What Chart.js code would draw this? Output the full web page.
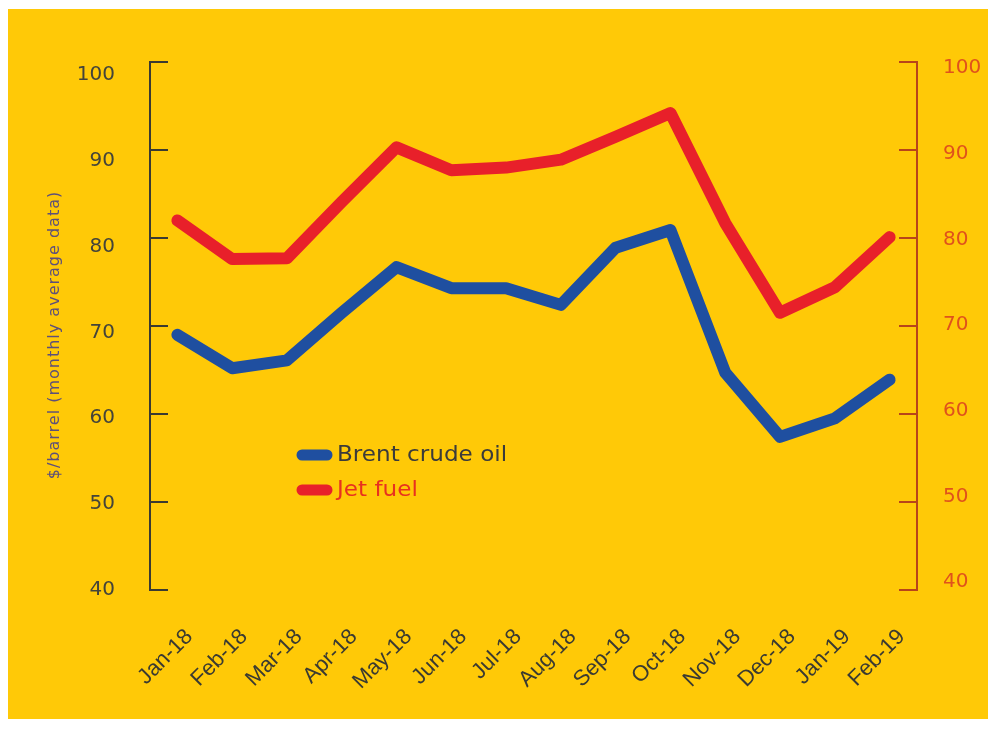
<!DOCTYPE html>
<html>
<head>
<meta charset="utf-8">
<title>Brent crude oil and jet fuel prices</title>
<script src="https://cdn.jsdelivr.net/npm/chart.js@4.4.1/dist/chart.umd.min.js"></script>
<style>
  html, body { margin: 0; padding: 0; background: #ffffff; }
  #panel {
    position: absolute;
    left: 8px; top: 9px;
    width: 980px; height: 710px;
    background: #ffc907;
  }
  #priceChart { display: block; }
</style>
</head>
<body>
<div id="panel"><canvas id="priceChart" width="980" height="710"></canvas></div>
<script>
// monthly labels along the bottom
var months = ["Jan-18", "Feb-18", "Mar-18", "Apr-18", "May-18", "Jun-18", "Jul-18",
              "Aug-18", "Sep-18", "Oct-18", "Nov-18", "Dec-18", "Jan-19", "Feb-19"];

// $/barrel, monthly averages
var brentValues = [69.0, 65.2, 66.1, 71.5, 76.7, 74.3, 74.3, 72.4, 78.9, 80.9, 64.7, 57.4, 59.5, 63.9];
var jetValues   = [82.0, 77.6, 77.7, 84.1, 90.3, 87.7, 88.0, 88.9, 91.5, 94.2, 81.7, 71.5, 74.4, 80.1];

// both y axes share the same scale
var yMin = 40, yMax = 100, yStep = 10;

var axisTitle = "$/barrel (monthly average data)";

var leftAxisColor = "#3a3a32";
var rightAxisColor = "#b8441a";
var brentColor = "#1f4fa0";
var jetColor = "#e8202a";

// short tick marks pointing into the plot from each y axis
var innerTicks = {
    id: "innerTicks",
    afterDatasetsDraw: function(chart) {
        var ctx = chart.ctx;
        var data = chart.scales.yData;
        var len = 18;
        ctx.save();
        ctx.lineWidth = 2;
        [[chart.scales.yLeft.right, leftAxisColor, 1], [chart.scales.yRight.left, rightAxisColor, -1]].forEach(function(side) {
            ctx.strokeStyle = side[1];
            for (var v = yMin; v <= yMax; v += yStep) {
                var y = Math.round(data.getPixelForValue(v));
                ctx.beginPath();
                ctx.moveTo(side[0], y);
                ctx.lineTo(side[0] + side[2] * len, y);
                ctx.stroke();
            }
        });
        ctx.restore();
    }
};

// rotated y title
var sideTitle = {
    id: "sideTitle",
    afterDraw: function(chart) {
        var ctx = chart.ctx;
        var area = chart.chartArea;
        ctx.save();
        ctx.translate(47, (area.top + area.bottom) / 2 + 9);
        ctx.rotate(-Math.PI / 2);
        ctx.font = "16px 'DejaVu Sans', sans-serif";
        ctx.letterSpacing = "1px";
        ctx.fillStyle = "#5e4f7a";
        ctx.textAlign = "center";
        ctx.textBaseline = "middle";
        ctx.fillText(axisTitle, 0, 0);
        ctx.restore();
    }
};

// legend drawn inside the plot, below the lines
var innerLegend = {
    id: "innerLegend",
    afterDraw: function(chart) {
        var ctx = chart.ctx;
        var area = chart.chartArea;
        var x0 = area.left + 147;
        var y0 = area.top + 393;
        var rowGap = 35;
        var textColors = ["#3b3b3b", "#e8311f"];
        ctx.save();
        ctx.textBaseline = "middle";
        ctx.lineCap = "round";
        chart.data.datasets.forEach(function(ds, i) {
            var y = y0 + i * rowGap;
            ctx.strokeStyle = ds.borderColor;
            ctx.lineWidth = 11;
            ctx.beginPath();
            ctx.moveTo(x0 + 5, y);
            ctx.lineTo(x0 + 30, y);
            ctx.stroke();
            ctx.save();
            ctx.translate(x0 + 40, y + 1);
            ctx.scale(1.1, 1);
            ctx.font = "21px 'DejaVu Sans', sans-serif";
            ctx.fillStyle = textColors[i];
            ctx.fillText(ds.label, 0, 0);
            ctx.restore();
        });
        ctx.restore();
    }
};

var tickFont = { family: "'DejaVu Sans', sans-serif", size: 20 };

var chart = new Chart(document.getElementById("priceChart"), {
    type: "line",
    data: {
        labels: months,
        datasets: [
            { label: "Brent crude oil", data: brentValues, yAxisID: "yData",
              borderColor: brentColor, borderWidth: 12, borderCapStyle: "round",
              borderJoinStyle: "round", pointRadius: 0, tension: 0, fill: false },
            { label: "Jet fuel", data: jetValues, yAxisID: "yData",
              borderColor: jetColor, borderWidth: 12, borderCapStyle: "round",
              borderJoinStyle: "round", pointRadius: 0, tension: 0, fill: false }
        ]
    },
    options: {
        responsive: false,
        animation: false,
        layout: { padding: { top: 53, left: 0, right: 0, bottom: 0 } },
        plugins: {
            legend: { display: false },
            tooltip: { enabled: false }
        },
        scales: {
            x: {
                offset: true,
                grid: { display: false, drawTicks: false },
                border: { display: false },
                ticks: {
                    color: "#3a3a32",
                    font: { family: "'Liberation Sans', Arial, sans-serif", size: 22 },
                    minRotation: 45,
                    maxRotation: 45,
                    padding: 34,
                    labelOffset: 12
                },
                afterFit: function(scale) { scale.height = 129; }
            },
            // lines are plotted against this one
            yData: {
                display: false,
                min: yMin, max: yMax
            },
            // number columns sit a little off the tick marks
            yLeft: {
                position: "left",
                min: yMin, max: yMax + 1.5,
                grid: { display: false, drawTicks: false },
                border: { display: true, color: leftAxisColor, width: 2 },
                ticks: {
                    stepSize: yStep,
                    includeBounds: false,
                    color: "#44443a",
                    padding: 35,
                    font: tickFont
                },
                afterFit: function(scale) { scale.width = 142; }
            },
            yRight: {
                position: "right",
                min: yMin - 0.93, max: yMax + 0.7,
                grid: { display: false, drawTicks: false },
                border: { display: true, color: rightAxisColor, width: 2 },
                ticks: {
                    stepSize: yStep,
                    includeBounds: false,
                    color: "#e0521c",
                    padding: 26,
                    font: tickFont
                },
                afterFit: function(scale) { scale.width = 71; }
            }
        }
    },
    plugins: [innerTicks, sideTitle, innerLegend]
});
</script>
</body>
</html>
